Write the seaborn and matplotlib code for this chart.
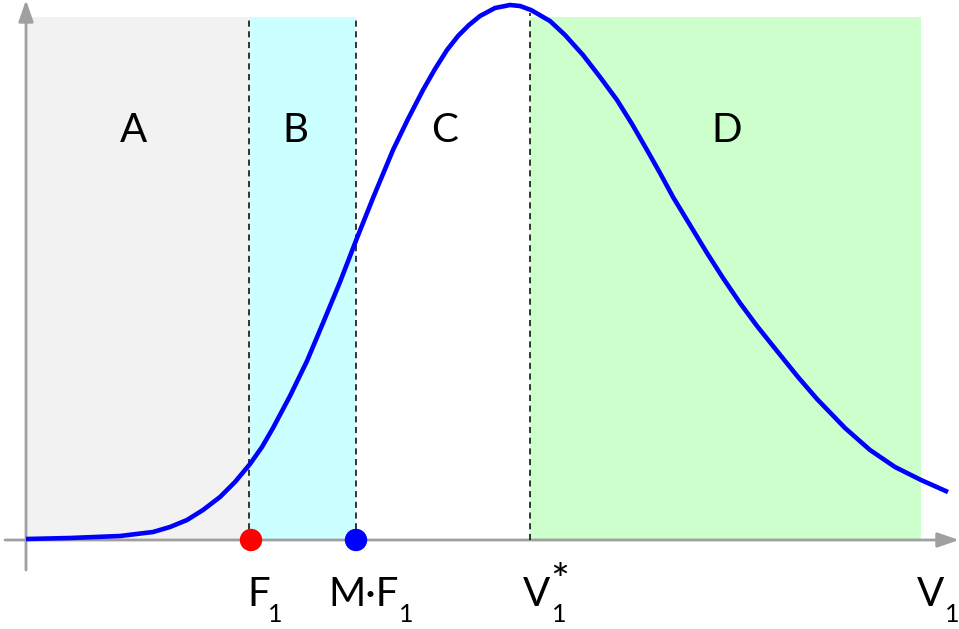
import matplotlib
matplotlib.use('Agg')
import matplotlib.pyplot as plt
import seaborn as sns
import pandas as pd

# Кривая плотности
curve_x = [0.00, 0.44, 0.94, 1.27, 1.44, 1.61, 1.77, 1.94, 2.09, 2.24, 2.36, 2.47,
           2.64, 2.81, 2.97, 3.14, 3.31, 3.47, 3.67, 3.82, 3.97, 4.09, 4.21, 4.32,
           4.43, 4.54, 4.69, 4.84, 4.94, 5.05, 5.24, 5.39, 5.57, 5.74, 5.91, 6.06,
           6.21, 6.34, 6.47, 6.64, 6.81, 6.97, 7.14, 7.31, 7.47, 7.72, 7.91, 8.19,
           8.44, 8.69, 8.95, 9.22]
curve_y = [0.01, 0.02, 0.04, 0.08, 0.13, 0.20, 0.30, 0.43, 0.58, 0.76, 0.93, 1.12,
           1.44, 1.79, 2.17, 2.58, 3.02, 3.42, 3.90, 4.21, 4.50, 4.71, 4.90, 5.04,
           5.15, 5.24, 5.32, 5.35, 5.34, 5.30, 5.19, 5.05, 4.85, 4.63, 4.40, 4.16,
           3.90, 3.67, 3.43, 3.15, 2.87, 2.62, 2.37, 2.14, 1.94, 1.63, 1.41, 1.12,
           0.90, 0.73, 0.60, 0.48]

# Области
region_names = ['A', 'B', 'C', 'D']
region_left = [0.00, 2.23, 3.30, 5.04]
region_right = [2.23, 3.30, 5.04, 8.95]
region_colors = ['#f2f2f2', '#ccffff', '#ffffff', '#ccffcc']
region_top = 5.23
label_x = [1.08, 2.69, 4.19, 7.01]
label_y = 4.10

# Пунктирные границы
dash_x = [2.23, 3.30, 5.04]
dash_top = [5.23, 5.23, 5.27]

# Точки на оси
point_x = [2.25, 3.30]
point_colors = ['#ff0000', '#0000ff']

# Подписи оси X: основной текст, индекс, верхний индекс
tick_main = ['F', 'M·F', 'V', 'V']
tick_main_x = [2.21, 3.02, 4.97, 8.91]
tick_sub = ['1', '1', '1', '1']
tick_sub_x = [2.42, 3.73, 5.26, 9.19]
tick_sup = ['', '', '*', '']
tick_sup_x = [0, 0, 5.24, 0]

sns.set_style('white')
plt.rcParams['font.family'] = ['Lato', 'DejaVu Sans']

fig = plt.figure(figsize=(9.59, 6.29), dpi=100)
ax = fig.add_axes([0, 0, 1, 1])
ax.set_xlim(-0.26, 9.33)
ax.set_ylim(-0.89, 5.40)
ax.axis('off')

for left, right, color in zip(region_left, region_right, region_colors):
    ax.fill_between([left, right], 0, region_top, color=color, lw=0, zorder=0)

for name, x in zip(region_names, label_x):
    ax.text(x, label_y, name, fontsize=29, ha='center', va='center', color='black')

for x, top in zip(dash_x, dash_top):
    ax.plot([x, x], [0, top], color='black', lw=1.1, ls=(0, (4, 3)), zorder=2)

# Оси со стрелками
ax.annotate('', xy=(9.33, 0), xytext=(-0.21, 0),
            arrowprops=dict(arrowstyle='-|>,head_length=1.3,head_width=0.45',
                            color='#a0a0a0', lw=2, shrinkA=0, shrinkB=0), zorder=1)
ax.annotate('', xy=(0, 5.40), xytext=(0, -0.30),
            arrowprops=dict(arrowstyle='-|>,head_length=1.3,head_width=0.45',
                            color='#a0a0a0', lw=2, shrinkA=0, shrinkB=0), zorder=1)

df = pd.DataFrame({'x': curve_x, 'y': curve_y})
sns.lineplot(data=df, x='x', y='y', sort=False, estimator=None, color='#0000ff',
             lw=3.3, ax=ax, zorder=3, solid_joinstyle='round', solid_capstyle='butt')

pts = pd.DataFrame({'x': point_x, 'y': [0, 0], 'c': ['F', 'MF']})
sns.scatterplot(data=pts, x='x', y='y', hue='c', palette=point_colors, s=260,
                edgecolor='none', legend=False, ax=ax, zorder=4)

for i in range(len(tick_main)):
    ax.text(tick_main_x[i], -0.66, tick_main[i], fontsize=29, ha='left',
            va='baseline', color='black')
    ax.text(tick_sub_x[i], -0.82, tick_sub[i], fontsize=18, ha='left',
            va='baseline', color='black')
    if tick_sup[i]:
        ax.text(tick_sup_x[i], -0.42, tick_sup[i], fontsize=32, ha='left',
                va='center', color='black')

ax.set_xlabel('')
ax.set_ylabel('')
fig.savefig('out.png', dpi=100)
